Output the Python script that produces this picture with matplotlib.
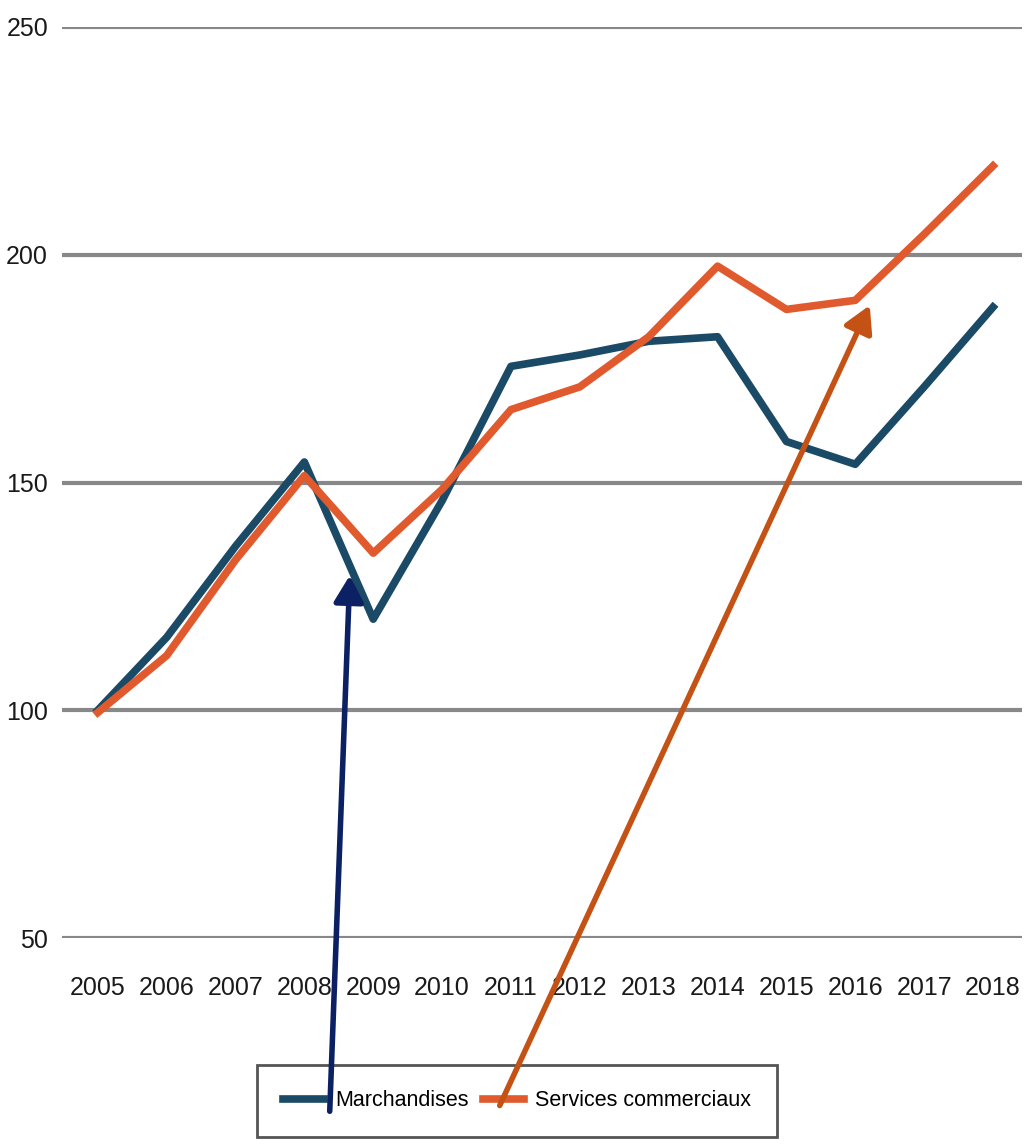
import matplotlib
matplotlib.use('Agg')
import matplotlib.pyplot as plt

years = list(range(2005, 2019))
marchandises = [100, 116, 136, 154.5, 120, 146, 175.5, 178, 181, 182, 159, 154, 171, 188.5]
services = [99.5, 112, 133, 151.5, 134.5, 148.5, 166, 171, 182, 197.5, 188, 190, 204.5, 219.5]
yticks = [50, 100, 150, 200, 250]

plt.rcParams['font.family'] = ['Liberation Sans', 'DejaVu Sans']

fig = plt.figure(figsize=(10.24, 11.48), dpi=100)
ax = fig.add_axes([0.0605, 0.1829, 0.9375, 0.7936])

for y in yticks:
    ax.axhline(y, color='#888888', linewidth=3, zorder=1)

ax.plot(years, marchandises, color='#1b4a66', linewidth=5.5, label='Marchandises', zorder=3)
ax.plot(years, services, color='#e05a2e', linewidth=5.5, label='Services commerciaux', zorder=4)

ax.set_xlim(2004.48, 2018.42)
ax.set_ylim(50, 250)
ax.set_xticks(years)
ax.set_xticklabels([str(y) for y in years])
ax.set_yticks(yticks)
ax.tick_params(length=0, labelsize=18, colors='#1a1a1a')
ax.tick_params(axis='x', pad=27)
ax.tick_params(axis='y', pad=10)
for s in ax.spines.values():
    s.set_visible(False)

leg = ax.legend(loc='lower center', bbox_to_anchor=(0.505, 0.0), bbox_transform=fig.transFigure,
                ncol=2, fontsize=15.5, frameon=True, fancybox=False, framealpha=1,
                edgecolor='#555555', handlelength=1.9, handletextpad=0.5,
                columnspacing=0.7, borderpad=1.2)
leg.get_frame().set_linewidth(2)
leg.set_zorder(5)

# fleches depuis la legende vers les courbes
ax.annotate('', xy=(2008.66, 129.6), xycoords='data', xytext=(0.322, 0.032), textcoords='figure fraction',
            arrowprops=dict(arrowstyle='-|>,head_length=0.8,head_width=0.45', color='#0b2163', lw=4,
                            mutation_scale=20, shrinkA=0, shrinkB=0),
            annotation_clip=False, zorder=7)
ax.annotate('', xy=(2016.21, 188.9), xycoords='data', xytext=(0.488, 0.037), textcoords='figure fraction',
            arrowprops=dict(arrowstyle='-|>,head_length=0.8,head_width=0.45', color='#c45214', lw=4,
                            mutation_scale=20, shrinkA=0, shrinkB=0),
            annotation_clip=False, zorder=7)

fig.savefig('out.png', dpi=100)
